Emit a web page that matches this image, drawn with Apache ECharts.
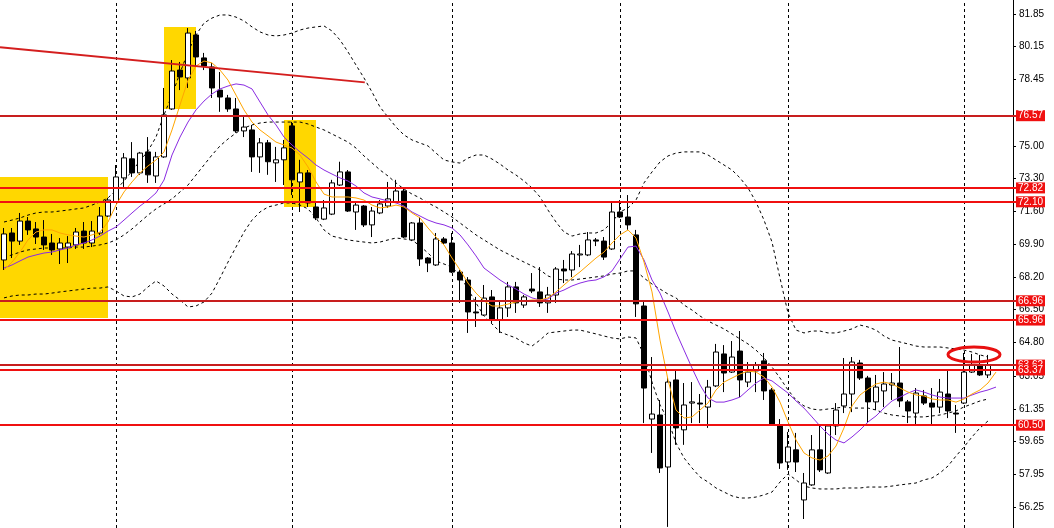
<!DOCTYPE html>
<html><head><meta charset="utf-8">
<script src="https://cdn.jsdelivr.net/npm/echarts@6/dist/echarts.min.js"></script>
<style>html,body{margin:0;padding:0;background:#fff;overflow:hidden}#c{width:1054px;height:528px}</style>
</head><body><div id="c"></div>
<script>
// ---- candle data (price) ----
const opens = [69.08,70.48,70.06,71.10,70.69,70.27,69.96,69.65,69.75,69.86,
70.58,69.96,70.48,71.36,72.09,73.34,74.33,73.60,74.69,73.44,
74.43,76.92,78.94,78.53,80.76,79.57,79.10,77.90,77.49,76.92,
75.78,75.83,74.43,75.16,74.12,74.28,76.04,73.13,73.60,71.83,
71.20,71.46,72.97,73.65,71.57,71.88,70.90,71.52,71.88,72.09,
72.66,70.12,71.00,69.18,68.82,70.17,69.96,68.45,68.04,66.38,
66.22,67.16,65.96,66.59,67.68,66.74,67.57,67.42,66.85,67.26,
68.61,68.56,69.34,69.34,70.12,70.06,69.65,71.57,71.31,70.38,
66.69,60.82,61.03,58.33,62.85,60.26,61.65,61.65,61.44,62.54,
64.20,63.26,64.35,62.74,63.32,63.84,62.33,60.51,58.59,59.22,
56.62,57.40,59.22,58.02,60.46,61.50,62.12,63.73,62.95,61.71,
62.28,62.59,62.69,61.71,61.13,62.02,61.65,61.44,62.12,61.13,
61.65,63.26,63.63,63.11];
const closes = [70.43,70.06,71.10,70.64,70.27,69.86,69.60,69.96,69.96,70.53,
69.96,70.58,71.36,72.19,73.39,74.38,73.60,74.63,73.50,74.43,
76.61,78.89,78.58,80.86,79.62,79.15,78.01,77.54,76.92,75.78,
75.98,74.43,75.16,74.18,74.28,74.90,73.24,73.60,72.04,71.26,
71.78,73.08,73.65,71.62,71.93,70.90,71.62,71.99,72.25,72.66,
70.27,71.00,69.13,68.92,70.17,69.96,68.45,68.04,66.38,66.33,
67.10,65.96,66.59,67.68,66.85,67.16,67.47,66.85,67.26,68.61,
68.51,69.39,69.39,70.12,70.06,69.23,71.57,71.31,70.90,66.80,
62.43,61.08,58.28,62.74,60.36,61.55,61.71,61.60,62.48,64.30,
63.21,64.04,62.85,63.26,63.63,62.28,60.56,58.54,59.37,58.59,
57.50,59.22,58.18,60.46,61.29,62.12,63.78,62.95,61.71,62.48,
62.64,62.69,61.76,61.24,62.17,61.65,61.44,62.22,61.24,61.08,
63.26,63.63,63.11,63.63];
const lows = [68.56,69.18,69.86,70.38,69.91,69.60,69.34,68.87,68.92,69.65,
69.65,69.75,70.38,71.31,72.04,72.87,73.39,73.50,73.08,73.08,
74.38,76.87,77.90,78.01,79.10,78.94,77.49,76.77,76.77,75.68,
75.46,73.65,73.60,73.50,73.13,72.97,72.45,71.57,71.83,71.15,
71.15,71.41,72.92,71.57,70.64,70.79,70.27,71.46,71.78,72.04,
70.22,70.06,68.77,68.45,68.77,69.91,68.40,66.85,65.29,65.60,
66.17,65.81,65.29,66.12,66.33,66.59,67.36,66.64,66.33,66.85,
67.88,68.19,68.71,69.28,69.80,69.08,69.60,71.26,70.64,66.12,
60.61,59.06,58.02,55.22,59.48,59.48,60.61,60.61,60.36,62.48,
62.22,63.21,61.96,62.48,62.22,61.81,60.51,58.23,58.18,58.07,
55.63,57.35,58.07,57.97,59.99,61.13,61.18,62.85,60.61,61.29,
61.44,61.81,61.44,60.61,60.46,61.55,60.56,61.13,60.87,60.10,
61.60,63.21,63.06,62.95];
const highs = [70.74,70.74,71.52,71.31,71.05,71.15,70.43,70.22,70.32,70.74,
71.05,71.10,71.83,72.30,74.01,74.63,75.20,74.69,75.46,74.69,
78.01,79.46,79.36,81.12,80.97,79.83,79.31,78.84,77.65,77.49,
76.50,76.09,75.41,75.31,74.95,75.31,76.25,74.28,73.75,72.09,
72.19,73.24,74.18,73.75,72.09,71.93,71.83,72.19,73.13,73.24,
72.82,71.05,71.31,69.23,70.48,70.27,70.48,68.56,68.19,67.16,
67.78,67.52,67.00,67.94,67.94,67.26,68.40,68.71,67.68,68.71,
69.08,69.54,69.86,70.53,70.22,70.27,72.04,72.19,72.45,70.64,
66.90,64.04,61.81,63.00,63.37,62.69,62.74,62.12,62.85,64.72,
64.66,64.87,65.39,63.78,63.78,64.25,62.43,60.82,60.15,60.10,
58.02,59.99,60.46,60.46,61.65,63.99,64.04,63.89,63.06,63.11,
63.26,63.21,64.56,61.81,62.43,62.33,62.43,62.90,63.37,61.55,
64.25,64.20,64.15,64.15];

// ---- indicator lines (price) ----
const maFast = [68.56,68.97,69.49,70.12,70.53,70.64,70.64,70.48,70.38,70.32,
70.27,70.38,70.53,71.05,71.93,72.61,73.13,73.60,73.96,74.27,
74.69,75.83,77.13,78.42,79.15,79.41,79.31,78.94,78.42,77.64,
76.87,76.24,75.83,75.52,75.20,75.05,74.89,74.53,73.91,73.13,
72.50,72.35,72.35,72.35,72.30,72.19,71.93,71.78,71.83,71.93,
71.83,71.52,71.26,70.74,70.27,69.86,69.18,68.56,67.88,67.36,
66.95,66.69,66.69,66.79,66.90,66.95,67.00,67.00,67.11,67.42,
67.78,68.14,68.46,68.82,69.18,69.49,69.96,70.38,70.64,70.22,
68.97,67.42,64.92,62.85,61.29,60.87,60.93,61.29,61.65,62.33,
62.74,62.95,63.16,63.31,63.26,63.00,62.48,61.70,60.67,59.73,
59.06,58.80,58.69,58.90,59.42,60.36,61.50,62.07,62.38,62.64,
62.74,62.64,62.43,62.22,62.07,62.02,61.86,61.81,61.81,61.70,
61.86,62.12,62.33,62.69,63.26];
const maSlow = [68.66,68.82,69.03,69.23,69.34,69.44,69.49,69.60,69.70,69.86,
69.96,70.12,70.32,70.58,70.79,71.15,71.52,71.88,72.19,72.56,
73.23,74.53,75.46,76.24,76.87,77.33,77.70,77.96,78.11,78.22,
78.16,77.96,77.28,76.61,76.09,75.46,75.05,74.69,74.37,74.01,
73.75,73.54,73.34,73.18,72.92,72.56,72.35,72.25,72.14,72.04,
71.88,71.57,71.36,71.15,71.00,70.90,70.74,70.38,69.86,69.29,
68.66,68.35,68.04,67.78,67.57,67.31,67.11,67.00,67.05,67.36,
67.52,67.73,67.88,67.99,68.04,68.20,68.51,69.13,69.75,69.80,
69.08,68.04,67.36,66.38,65.34,64.40,63.47,62.59,61.91,61.70,
61.70,61.81,61.96,62.33,62.69,62.95,62.80,62.48,62.17,61.76,
61.39,60.93,60.46,60.04,59.73,59.58,59.89,60.25,60.67,60.98,
61.39,61.76,61.96,62.17,62.33,62.22,62.07,61.96,61.91,61.91,
61.91,62.07,62.22,62.33,62.48];
const bandUpper = [71.05,71.15,71.26,71.41,71.52,71.57,71.57,71.62,71.67,71.73,
71.78,71.93,72.09,72.30,72.71,73.18,73.70,74.22,74.74,75.46,
76.61,77.64,78.79,79.88,80.76,81.38,81.64,81.80,81.80,81.69,
81.49,81.18,80.92,80.76,80.71,80.76,80.86,81.02,81.12,81.18,
81.23,80.97,80.50,79.88,79.20,78.53,77.80,77.02,76.50,75.98,
75.57,75.31,75.15,75.00,74.63,74.27,74.17,74.11,74.37,74.53,
74.53,74.32,74.06,73.75,73.49,73.18,72.82,72.35,71.67,71.05,
70.53,70.32,70.43,70.48,70.48,70.64,71.05,71.57,71.78,72.19,
73.08,73.65,74.17,74.48,74.63,74.69,74.69,74.69,74.53,74.27,
74.01,73.75,73.34,72.82,72.09,71.15,70.01,68.14,66.33,65.44,
65.29,65.39,65.39,65.29,65.29,65.39,65.50,65.70,65.60,65.44,
65.13,64.92,64.82,64.72,64.61,64.56,64.56,64.56,64.51,64.46,
64.40,64.30,64.15,64.04];
const bandMiddle = [69.23,69.34,69.49,69.60,69.65,69.70,69.70,69.70,69.70,69.75,
69.75,69.80,69.86,69.96,70.12,70.38,70.69,71.05,71.41,71.73,
71.99,72.25,72.61,72.97,73.49,74.01,74.53,75.00,75.36,75.67,
75.93,76.09,76.19,76.24,76.24,76.24,76.24,76.24,76.14,75.98,
75.83,75.62,75.41,75.20,74.89,74.48,74.12,73.75,73.44,73.08,
72.76,72.50,72.30,72.04,71.83,71.57,71.31,71.00,70.69,70.38,
70.12,69.86,69.60,69.39,69.18,68.97,68.77,68.56,68.25,68.09,
68.04,68.04,68.09,68.14,68.20,68.25,68.35,68.40,68.51,68.51,
68.14,67.83,67.57,67.31,67.11,66.74,66.48,66.17,65.91,65.70,
65.50,65.24,64.98,64.72,64.40,63.99,63.52,62.95,62.33,61.81,
61.50,61.34,61.29,61.34,61.39,61.45,61.39,61.39,61.39,61.29,
61.13,61.03,60.98,60.93,60.93,60.93,60.98,61.03,61.13,61.24,
61.45,61.60,61.76,61.86];
const bandLower = [67.11,67.21,67.26,67.26,67.31,67.31,67.36,67.42,67.47,67.52,
67.57,67.62,67.62,67.68,67.47,67.21,67.16,67.31,67.68,67.99,
67.73,67.31,67.00,66.64,66.69,66.90,67.36,68.14,68.97,69.75,
70.53,71.15,71.57,71.83,71.93,72.04,72.04,71.93,71.73,71.26,
70.64,70.32,70.22,70.12,70.06,70.01,69.96,70.01,70.12,70.22,
70.17,70.12,69.80,69.44,69.03,68.87,68.71,68.25,67.57,66.85,
66.17,65.76,65.34,65.18,65.03,64.77,64.61,64.92,65.29,65.34,
65.39,65.44,65.44,65.34,65.24,65.13,65.03,64.98,65.08,65.03,
64.15,62.74,61.55,60.77,59.58,58.80,58.28,57.81,57.55,57.24,
57.03,56.83,56.72,56.72,56.77,56.88,57.03,57.55,57.97,57.66,
57.34,57.24,57.19,57.19,57.19,57.24,57.24,57.24,57.29,57.29,
57.29,57.34,57.40,57.45,57.50,57.66,57.76,58.02,58.38,58.90,
59.37,59.89,60.36,60.72];

// ---- annotations ----
const levels = [76.57, 72.82, 72.10, 66.96, 65.96, 63.62, 63.37, 60.50];
const levelDark = [true, false, false, true, false, true, false, false];
const tickValues = [81.85, 80.15, 78.45, 75.00, 73.30, 71.60, 69.90, 68.20, 66.50, 64.80, 63.05, 61.35, 59.65, 57.95, 56.25];
const gridBars = [14, 36, 56, 77, 98, 120];
const zoneStart = [-0.5, 20, 35];
const zoneEnd = [13, 24, 39];
const zoneTop = [73.39, 81.18, 76.35];
const zoneBottom = [66.07, 76.92, 71.83];
const trendBars = [-0.5, 45.1];
const trendPrices = [80.12, 78.30];
const ringCenter = [121.25, 64.17];
const ringRadius = [3.25, 0.39];

const N = 127;
const cats = Array.from({length: N}, (_, i) => String(i));
const candles = opens.map((o, i) => [o, closes[i], lows[i], highs[i]]);
const zones = zoneStart.map((s, i) => [s, zoneEnd[i], zoneTop[i], zoneBottom[i]]);

const FONT = 'Liberation Sans';
const chart = echarts.init(document.getElementById('c'), null, {renderer: 'canvas'});
const dash = [3, 3];

chart.setOption({
  animation: false,
  backgroundColor: '#ffffff',
  grid: {left: 0, right: 38, top: 0, bottom: 0, containLabel: false},
  xAxis: [
    {type: 'category', data: cats, boundaryGap: true, show: false},
    {type: 'value', min: -0.5, max: N - 0.5, show: false}
  ],
  yAxis: {
    type: 'value', position: 'right', min: 55.163, max: 82.577, offset: -3,
    splitLine: {show: false},
    axisLine: {show: true, onZero: false, lineStyle: {color: '#000', width: 1}},
    axisTick: {show: true, length: 3, customValues: tickValues, lineStyle: {color: '#000'}},
    axisLabel: {customValues: tickValues, formatter: v => Number(v).toFixed(2), color: '#000',
      fontSize: 10, fontFamily: FONT, margin: 6}
  },
  series: [
    {
      type: 'custom', xAxisIndex: 1, z: 0, silent: true,
      data: zones,
      renderItem: (params, api) => {
        const a = api.coord([api.value(0), api.value(2)]);
        const b = api.coord([api.value(1), api.value(3)]);
        return {type: 'rect', shape: {x: a[0], y: a[1], width: b[0] - a[0], height: b[1] - a[1]},
          style: {fill: '#FFD700'}};
      }
    },
    {
      name: 'price', type: 'candlestick', z: 3, data: candles, barWidth: 5,
      itemStyle: {color: '#ffffff', color0: '#000000', borderColor: '#000000', borderColor0: '#000000',
        borderColorDoji: '#000000', borderWidth: 1},
      markLine: {
        silent: true, z: 1, symbol: ['none', 'none'], label: {show: false},
        lineStyle: {color: '#000', width: 1, type: dash},
        data: gridBars.map(b => ({xAxis: String(b)}))
      }
    },
    {type: 'line', z: 2, data: bandUpper, showSymbol: false, silent: true,
      lineStyle: {color: '#000', width: 1, type: dash}},
    {type: 'line', z: 2, data: bandMiddle, showSymbol: false, silent: true,
      lineStyle: {color: '#000', width: 1, type: dash}},
    {type: 'line', z: 2, data: bandLower, showSymbol: false, silent: true,
      lineStyle: {color: '#000', width: 1, type: dash}},
    {type: 'line', z: 4, data: maSlow, showSymbol: false, silent: true,
      lineStyle: {color: '#8A2BE2', width: 1}},
    {type: 'line', z: 4, data: maFast, showSymbol: false, silent: true,
      lineStyle: {color: '#FFA500', width: 1},
      markLine: {
        silent: true, z: 6, symbol: ['none', 'none'],
        data: levels.map((v, i) => ({
          yAxis: v,
          lineStyle: {color: levelDark[i] ? '#C81E1E' : '#F01010', width: 2, type: 'solid'},
          label: {show: true, position: 'end', distance: 0, formatter: v.toFixed(2),
            color: '#fff', backgroundColor: '#F01010', padding: [1, 2, 0, 2],
            fontSize: 10, lineHeight: 10, fontFamily: FONT}
        }))
      }
    },
    {
      type: 'custom', xAxisIndex: 1, z: 6, silent: true,
      data: [[trendBars[0], trendPrices[0], trendBars[1], trendPrices[1]]],
      renderItem: (params, api) => {
        const a = api.coord([api.value(0), api.value(1)]);
        const b = api.coord([api.value(2), api.value(3)]);
        return {type: 'line', shape: {x1: a[0], y1: a[1], x2: b[0], y2: b[1]},
          style: {stroke: '#D41E1E', lineWidth: 2}};
      }
    },
    {
      type: 'custom', xAxisIndex: 1, z: 7, silent: true,
      data: [[ringCenter[0], ringCenter[1], ringRadius[0], ringRadius[1]]],
      renderItem: (params, api) => {
        const c = api.coord([api.value(0), api.value(1)]);
        const e = api.coord([api.value(0) + api.value(2), api.value(1) + api.value(3)]);
        return {type: 'ellipse', shape: {cx: c[0], cy: c[1], rx: Math.abs(e[0] - c[0]), ry: Math.abs(e[1] - c[1])},
          style: {fill: 'none', stroke: '#E81010', lineWidth: 3}};
      }
    }
  ]
});
</script>
</body></html>
